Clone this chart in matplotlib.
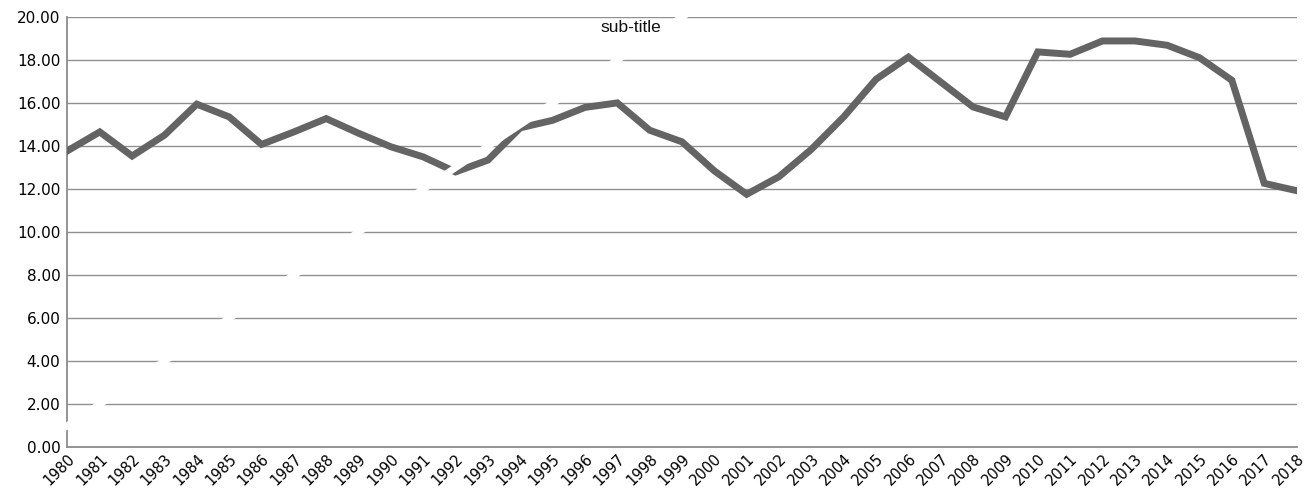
import numpy as np
import matplotlib.pyplot as plt
from matplotlib.patches import Rectangle

years = [str(y) for y in range(1980, 2019)]

values = [13.78, 14.66, 13.54, 14.51, 15.95, 15.36, 14.08, 14.66, 15.28, 14.6,
          13.97, 13.5, 12.8, 13.35, 14.85, 15.2, 15.8, 16.01, 14.74, 14.2,
          12.85, 11.76, 12.58, 13.85, 15.36, 17.11, 18.14, 16.98, 15.82, 15.36,
          18.38, 18.27, 18.89, 18.89, 18.69, 18.11, 17.06, 12.27, 11.93]

# second series, drawn in white
trend = [float(v) for v in range(1, 40)]

yticks = [0, 2, 4, 6, 8, 10, 12, 14, 16, 18, 20]

fig = plt.figure(figsize=(13.09, 4.95), dpi=100)
ax = fig.add_axes([0.0515, 0.0965, 0.939, 0.869])

x = np.arange(len(years))
ax.plot(x, values, color="#646464", linewidth=5.0, solid_joinstyle="miter", zorder=3)
white, = ax.plot(x, trend, color="white", linewidth=5.0, zorder=5)
white.set_clip_path(Rectangle((-0.01, -0.01), 1.01, 1.02, transform=ax.transAxes))

ax.set_xlim(0, len(years) - 1)
ax.set_ylim(0, 20)
ax.set_yticks(yticks)
ax.set_yticklabels([f"{v:.2f}" for v in yticks], fontsize=11)
ax.set_xticks(x)
ax.set_xticklabels(years, rotation=45, ha="right", rotation_mode="anchor", fontsize=10.5)
ax.tick_params(axis="y", length=0, pad=5)
ax.tick_params(axis="x", length=0, pad=3)

ax.grid(axis="y", color="#909090", linewidth=1.0, zorder=1)
ax.set_axisbelow(True)
for side in ["top", "right"]:
    ax.spines[side].set_visible(False)
for side in ["left", "bottom"]:
    ax.spines[side].set_color("#8c8c8c")
    ax.spines[side].set_linewidth(1.3)
    ax.spines[side].set_zorder(2)

fig.text(631 / 1309, 1 - 27 / 495, "sub-title", family="Liberation Sans",
         fontsize=12.5, ha="center", va="center", color="#111111")

fig.savefig("out.png", dpi=100)
